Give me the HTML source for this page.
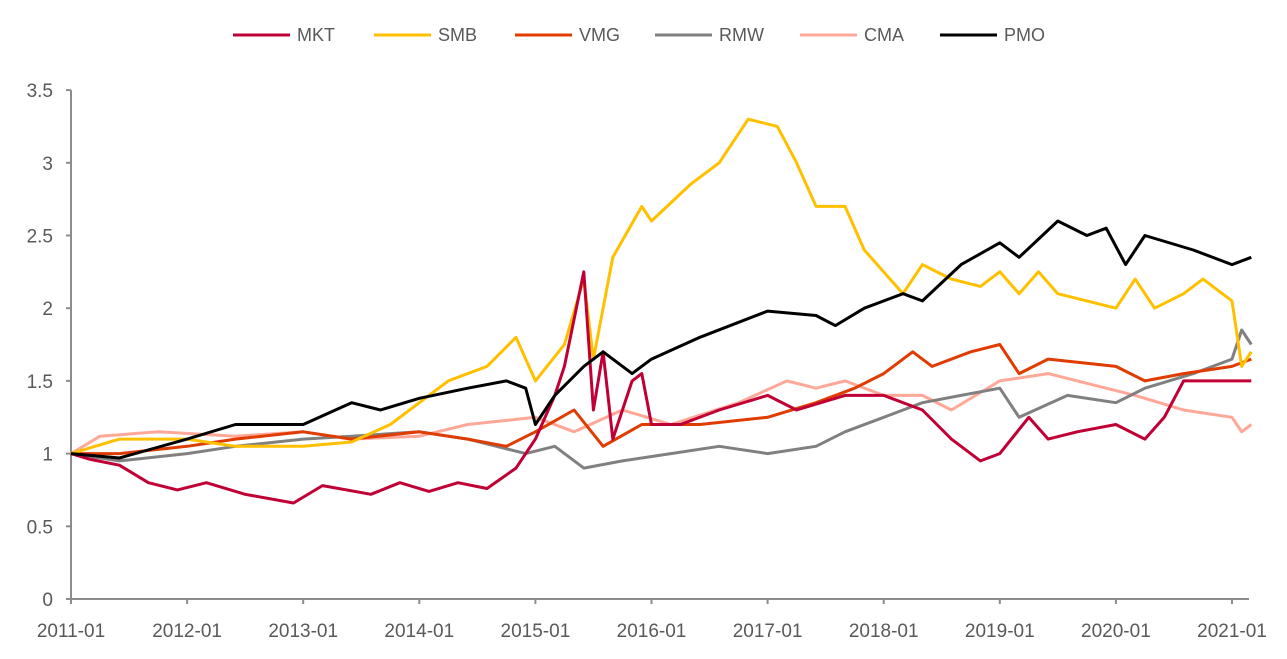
<!DOCTYPE html>
<html><head><meta charset="utf-8"><style>
body{margin:0;background:#fff;width:1287px;height:654px;overflow:hidden;font-family:"Liberation Sans",sans-serif}
svg text{font-family:"Liberation Sans",sans-serif;fill:#595959}
</style></head><body>
<svg id="chart" width="1287" height="654" viewBox="0 0 1287 654" xmlns="http://www.w3.org/2000/svg"></svg>
<script>
const yTicks=[0,0.5,1,1.5,2,2.5,3,3.5];
const yTickLabels=["0","0.5","1","1.5","2","2.5","3","3.5"];
const xTickLabels=["2011-01","2012-01","2013-01","2014-01","2015-01","2016-01","2017-01","2018-01","2019-01","2020-01","2021-01"];
const seriesNames=["MKT","SMB","VMG","RMW","CMA","PMO"];
const mktDates=["2011-01","2011-03","2011-06","2011-09","2011-12","2012-03","2012-07","2012-12","2013-03","2013-08","2013-11","2014-02","2014-05","2014-08","2014-11","2015-01","2015-03","2015-04","2015-06","2015-07","2015-08","2015-09","2015-11","2015-12","2016-01","2016-04","2016-08","2017-01","2017-04","2017-09","2018-01","2018-05","2018-08","2018-11","2019-01","2019-04","2019-06","2019-09","2020-01","2020-04","2020-06","2020-08","2021-01","2021-03"];
const mktValues=[1.0,0.96,0.92,0.8,0.75,0.8,0.72,0.66,0.78,0.72,0.8,0.74,0.8,0.76,0.9,1.1,1.4,1.6,2.25,1.3,1.7,1.1,1.5,1.55,1.2,1.2,1.3,1.4,1.3,1.4,1.4,1.3,1.1,0.95,1.0,1.25,1.1,1.15,1.2,1.1,1.25,1.5,1.5,1.5];
const smbDates=["2011-01","2011-06","2012-01","2012-06","2013-01","2013-06","2013-10","2014-01","2014-04","2014-08","2014-11","2015-01","2015-04","2015-06","2015-07","2015-08","2015-09","2015-12","2016-01","2016-05","2016-08","2016-11","2017-02","2017-04","2017-06","2017-09","2017-11","2018-03","2018-05","2018-08","2018-11","2019-01","2019-03","2019-05","2019-07","2019-10","2020-01","2020-03","2020-05","2020-08","2020-10","2021-01","2021-02","2021-03"];
const smbValues=[1.0,1.1,1.1,1.05,1.05,1.08,1.2,1.35,1.5,1.6,1.8,1.5,1.75,2.2,1.65,2.0,2.35,2.7,2.6,2.85,3.0,3.3,3.25,3.0,2.7,2.7,2.4,2.1,2.3,2.2,2.15,2.25,2.1,2.25,2.1,2.05,2.0,2.2,2.0,2.1,2.2,2.05,1.6,1.7];
const vmgDates=["2011-01","2011-06","2012-01","2012-06","2013-01","2013-06","2014-01","2014-06","2014-10","2015-01","2015-05","2015-08","2015-12","2016-06","2017-01","2017-06","2017-10","2018-01","2018-04","2018-06","2018-10","2019-01","2019-03","2019-06","2020-01","2020-04","2020-08","2021-01","2021-03"];
const vmgValues=[1.0,1.0,1.05,1.1,1.15,1.1,1.15,1.1,1.05,1.15,1.3,1.05,1.2,1.2,1.25,1.35,1.45,1.55,1.7,1.6,1.7,1.75,1.55,1.65,1.6,1.5,1.55,1.6,1.65];
const rmwDates=["2011-01","2011-06","2012-01","2012-06","2013-01","2013-06","2014-01","2014-06","2014-12","2015-03","2015-06","2015-10","2016-03","2016-08","2017-01","2017-06","2017-09","2018-01","2018-05","2018-09","2019-01","2019-03","2019-08","2020-01","2020-04","2020-09","2021-01","2021-02","2021-03"];
const rmwValues=[1.0,0.95,1.0,1.05,1.1,1.12,1.15,1.1,1.0,1.05,0.9,0.95,1.0,1.05,1.0,1.05,1.15,1.25,1.35,1.4,1.45,1.25,1.4,1.35,1.45,1.55,1.65,1.85,1.75];
const cmaDates=["2011-01","2011-04","2011-10","2012-06","2013-01","2013-06","2014-01","2014-06","2015-01","2015-05","2015-10","2016-03","2016-10","2017-03","2017-06","2017-09","2018-01","2018-05","2018-08","2019-01","2019-06","2019-12","2020-03","2020-08","2021-01","2021-02","2021-03"];
const cmaValues=[1.0,1.12,1.15,1.12,1.15,1.1,1.12,1.2,1.25,1.15,1.3,1.2,1.35,1.5,1.45,1.5,1.4,1.4,1.3,1.5,1.55,1.45,1.4,1.3,1.25,1.15,1.2];
const pmoDates=["2011-01","2011-06","2012-01","2012-06","2013-01","2013-06","2013-09","2014-01","2014-06","2014-10","2014-12","2015-01","2015-03","2015-06","2015-08","2015-11","2016-01","2016-06","2017-01","2017-06","2017-08","2017-11","2018-03","2018-05","2018-09","2019-01","2019-03","2019-07","2019-10","2019-12","2020-02","2020-04","2020-09","2021-01","2021-03"];
const pmoValues=[1.0,0.97,1.1,1.2,1.2,1.35,1.3,1.38,1.45,1.5,1.45,1.2,1.4,1.6,1.7,1.55,1.65,1.8,1.98,1.95,1.88,2.0,2.1,2.05,2.3,2.45,2.35,2.6,2.5,2.55,2.3,2.5,2.4,2.3,2.35];
const colors=["#c00034","#ffc000","#e03c00","#808080","#ffa898","#000000"];

const NS="http://www.w3.org/2000/svg";
const svg=document.getElementById('chart');
const X0=71,YEAR=116.1,Y0=599,UNIT=145.4;
function xDate(s){const p=s.split('-');return X0+((+p[0]-2011)+(+p[1]-1)/12)*YEAR;}
function yVal(v){return Y0-v*UNIT;}
function mk(tag,attrs){const e=document.createElementNS(NS,tag);for(const k in attrs)e.setAttribute(k,attrs[k]);svg.appendChild(e);return e;}

let ya=mk('line',{x1:X0,y1:yVal(3.5),x2:X0,y2:Y0,stroke:'#8c8c8c','stroke-width':2});


yTicks.forEach((t,i)=>{
  const tk=mk('line',{x1:X0-5,y1:yVal(t),x2:X0,y2:yVal(t),stroke:'#8c8c8c','stroke-width':2});
  
  
  const tx=mk('text',{x:53,y:yVal(t)+7,'text-anchor':'end','font-size':19});
  tx.textContent=yTickLabels[i];
  
  
});
let xa=mk('line',{x1:X0,y1:Y0,x2:1249,y2:Y0,stroke:'#8c8c8c','stroke-width':2});


xTickLabels.forEach(l=>{
  const x=xDate(l);
  const tk=mk('line',{x1:x,y1:Y0,x2:x,y2:Y0+5,stroke:'#8c8c8c','stroke-width':2});
  
  
  const tx=mk('text',{x:x,y:637,'text-anchor':'middle','font-size':19});
  tx.textContent=l;
  
  
});
const allDates=[mktDates,smbDates,vmgDates,rmwDates,cmaDates,pmoDates];
const allVals=[mktValues,smbValues,vmgValues,rmwValues,cmaValues,pmoValues];
const order=[4,3,2,1,0,5];
order.forEach(i=>{
  const d=allDates[i].map((s,j)=>(j?'L':'M')+xDate(s).toFixed(1)+' '+yVal(allVals[i][j]).toFixed(1)).join(' ');
  const p=mk('path',{d:d,fill:'none',stroke:colors[i],'stroke-width':3,'stroke-linejoin':'round'});
  
  
});
const legX=[233,374,515,655,800,940];
seriesNames.forEach((n,i)=>{
  const l=mk('line',{x1:legX[i],y1:35,x2:legX[i]+57,y2:35,stroke:colors[i],'stroke-width':3});
  
  
  const t=mk('text',{x:legX[i]+64,y:41,'font-size':18});
  t.textContent=n;
  
  
});
</script>
</body></html>
